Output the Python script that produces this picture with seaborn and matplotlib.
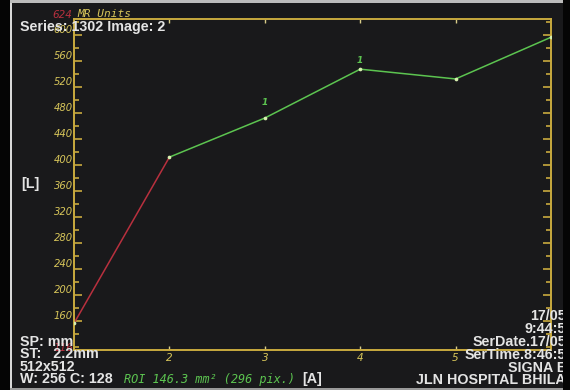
import matplotlib
matplotlib.use("Agg")
import matplotlib.pyplot as plt
from matplotlib.patches import Rectangle
from matplotlib.ticker import FixedLocator, MultipleLocator
import pandas as pd
import seaborn as sns

# Mean ROI signal (MR units) for each image of the series
image_index = [1, 2, 3, 4, 5, 6]
signal = [157, 412, 472, 547, 532, 596]
# images carrying a ROI number marker
roi_marked = [3, 4]
roi_label = "1"

y_min, y_max = 116, 624
y_ticks = [160, 200, 240, 280, 320, 360, 400, 440, 480, 520, 560, 600]
y_tick_labels = [str(v) for v in y_ticks]
x_ticks = [2, 3, 4, 5]
x_tick_labels = ["2", "3", "4", "5"]

W, H = 570, 390
BG = "#19191b"
GOLD = "#c9aa3e"
TICK_TXT = "#d8c65a"
RED = "#b8303e"
GREEN = "#5cc450"
WHITE = "#e4e4e4"

sns.set_theme(style="dark", rc={"axes.facecolor": BG, "figure.facecolor": BG})

# first segment (uptake) in red, remainder in green
rows = []
for i in (0, 1):
    rows.append({"image": image_index[i], "signal": signal[i], "phase": "uptake"})
for i in range(1, len(image_index)):
    rows.append({"image": image_index[i], "signal": signal[i], "phase": "plateau"})
df = pd.DataFrame(rows)

fig = plt.figure(figsize=(W / 100, H / 100), dpi=100)
ax = fig.add_axes([74 / W, 1 - 350 / H, 477 / W, 331 / H])
ax.set_facecolor(BG)

sns.lineplot(data=df, x="image", y="signal", hue="phase",
             palette={"uptake": RED, "plateau": GREEN},
             estimator=None, sort=False, legend=False, linewidth=1.1, ax=ax)
sns.scatterplot(x=image_index, y=signal, color="#d8f0b0", s=7, linewidth=0,
                ax=ax, zorder=5)

for xi in roi_marked:
    yi = signal[image_index.index(xi)]
    off = 8 if xi == 3 else 3
    ax.annotate(roi_label, (xi, yi), xytext=(0, off), textcoords="offset points",
                ha="center", va="bottom", color=GREEN, fontsize=6.5,
                fontweight="bold", fontstyle="italic")

ax.set_xlim(1, 6)
ax.set_ylim(y_min, y_max)
ax.set_xlabel("")
ax.set_ylabel("")
ax.grid(False)

ax.yaxis.set_major_locator(FixedLocator(y_ticks))
ax.yaxis.set_minor_locator(MultipleLocator(20))
ax.set_yticklabels(y_tick_labels)
ax.xaxis.set_major_locator(FixedLocator(x_ticks))
ax.set_xticklabels(x_tick_labels)

ax.tick_params(axis="y", which="both", direction="in", left=True, right=True,
               color=GOLD, width=1.2, labelcolor=TICK_TXT, labelsize=7.2, pad=1)
ax.tick_params(axis="y", which="major", length=5.5)
ax.tick_params(axis="y", which="minor", length=3.3)
ax.tick_params(axis="x", which="major", direction="in", bottom=True, top=True,
               length=3, width=1.0, color="#d8cc88", labelcolor=TICK_TXT,
               labelsize=7.5, pad=2)
for lab in ax.get_yticklabels():
    lab.set_fontstyle("italic")
    lab.set_va("bottom")
for lab in ax.get_xticklabels():
    lab.set_fontstyle("italic")

for sp in ax.spines.values():
    sp.set_visible(True)
    sp.set_color(GOLD)
    sp.set_linewidth(1.4)


def px_text(x, y, s, **kw):
    fig.text(x / W, 1 - y / H, s, transform=fig.transFigure, **kw)


sans = dict(family="Liberation Sans", fontweight="bold", color=WHITE, fontsize=10.3,
            va="center")
mono = dict(family="DejaVu Sans Mono", fontstyle="italic", va="center")

# scale limits
px_text(52, 15, str(y_max), color=RED, fontsize=7.5, fontstyle="italic", va="center")
px_text(77, 14, "MR Units", color=TICK_TXT, fontsize=8, **mono)
px_text(53, 348, str(y_min), color=RED, fontsize=7.5, fontstyle="italic", va="center")

px_text(20, 27, "Series: 1302 Image: 2", zorder=6, **sans)
px_text(21, 184, "[L]", **sans)

px_text(20, 342, "SP: mm", **sans)
px_text(20, 354, "ST:   2.2mm", **sans)
px_text(20, 367, "512x512", **sans)
px_text(20, 379, "W: 256 C: 128", **sans)
px_text(124, 380, "ROI 146.3 mm\u00b2 (296 pix.)", color=GREEN, fontsize=8.6, **mono)
px_text(302, 379, "[A]", **sans)

right_lines = [(316, "17/05"), (329, "9:44:5"), (342, "SerDate.17/05"),
               (355, "SerTime.8:46:5"), (368, "SIGNA E"), (380, "JLN HOSPITAL BHILA")]
for y, s in right_lines:
    px_text(566, y, s, ha="right", **sans)

# monitor frame
def frame(x0, y0, w, h, c):
    fig.add_artist(Rectangle((x0 / W, 1 - (y0 + h) / H), w / W, h / H,
                             transform=fig.transFigure, color=c, zorder=20, lw=0))

frame(0, 0, 10, H, "#050505")
frame(10, 0, 1.6, H, "#d8d8d8")
frame(563, 0, 7, H, "#050505")
frame(10, 0, 553, 3, "#bcbcbc")
frame(10, 388, 553, 2, "#9a9a9a")

fig.savefig("out.png", dpi=100, facecolor=BG)
